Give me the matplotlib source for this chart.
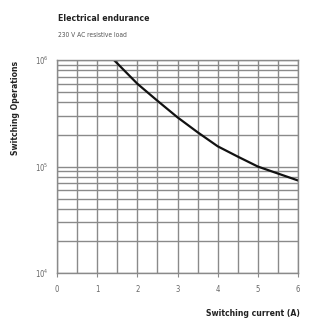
import numpy as np
import matplotlib
matplotlib.use("Agg")
import matplotlib.pyplot as plt
from matplotlib.ticker import FixedLocator, LogLocator, NullFormatter

plt.rcParams['font.family'] = ['Liberation Sans Narrow', 'DejaVu Sans']
plt.rcParams['font.stretch'] = 'condensed'

# curve
current = [1.42, 2.0, 2.5, 3.0, 3.5, 4.0, 4.5, 5.0, 5.5, 6.0]
operations = [1.0e6, 6.0e5, 4.15e5, 2.9e5, 2.1e5, 1.55e5, 1.24e5, 1.0e5, 8.6e4, 7.4e4]

x_ticks = [0, 1, 2, 3, 4, 5, 6]
x_grid = [0.5, 1.5, 2.5, 3.5, 4.5, 5.5]
y_ticks = [1e4, 1e5, 1e6]
y_labels = ['10$^4$', '10$^5$', '10$^6$']

grid_col = '#8a8a8a'

fig = plt.figure(figsize=(3.11, 3.28), dpi=100)
ax = fig.add_axes([0.1833, 0.1677, 0.775, 0.649])

ax.set_yscale('log')
ax.set_xlim(0, 6)
ax.set_ylim(1e4, 1e6)

ax.xaxis.set_major_locator(FixedLocator(x_ticks))
ax.xaxis.set_minor_locator(FixedLocator(x_grid))
ax.set_xticklabels([str(t) for t in x_ticks])
ax.yaxis.set_major_locator(FixedLocator(y_ticks))
ax.set_yticklabels(y_labels)
ax.yaxis.set_minor_locator(LogLocator(base=10, subs=np.arange(2, 10)))
ax.yaxis.set_minor_formatter(NullFormatter())

ax.grid(True, which='both', color=grid_col, lw=1.0)
ax.set_axisbelow(True)
for s in ax.spines.values():
    s.set_color(grid_col)
    s.set_linewidth(1.0)

ax.tick_params(axis='x', which='major', length=3, color=grid_col, labelsize=5.5,
               labelcolor='#666666', pad=6)
ax.tick_params(axis='x', which='minor', length=0)
ax.tick_params(axis='y', which='both', length=0, labelsize=5.5, labelcolor='#666666', pad=6)

ax.plot(current, operations, color='#111111', lw=1.6)

fig.text(0.185, 0.935, 'Electrical endurance', fontsize=6.3, fontweight='bold', color='#222222')
fig.text(0.185, 0.888, '230 V AC resistive load', fontsize=4.8, color='#555555')
fig.text(0.05, 0.67, 'Switching Operations', rotation=90, fontsize=6.2, fontweight='bold',
         color='#222222', ha='center', va='center')
fig.text(0.965, 0.045, 'Switching current (A)', fontsize=6.2, fontweight='bold',
         color='#222222', ha='right', va='center')

fig.savefig('out.png', dpi=100)
